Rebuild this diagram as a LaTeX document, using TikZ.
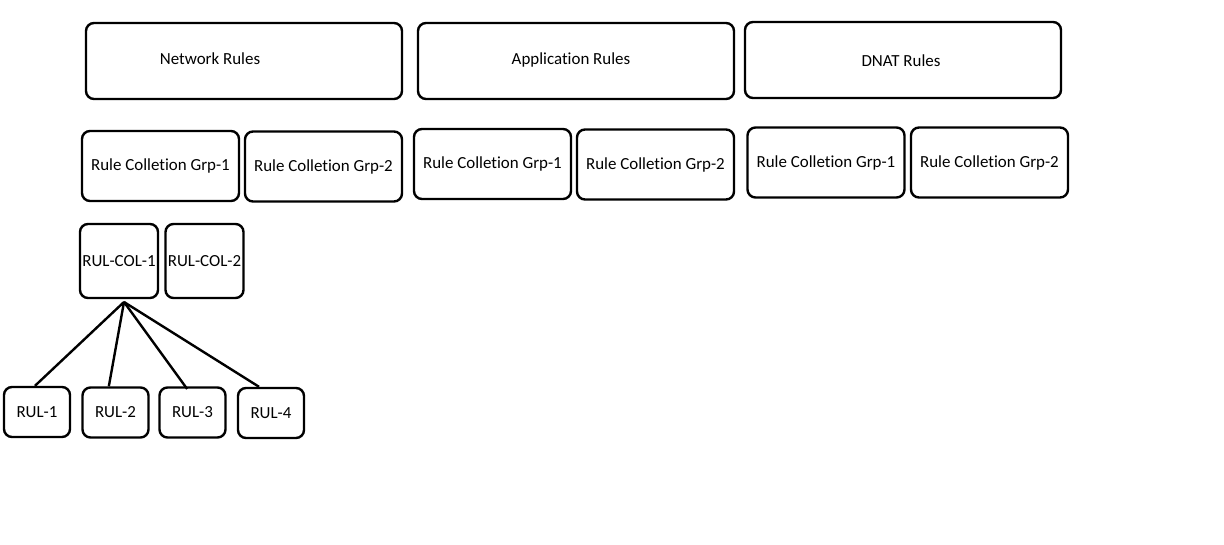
\documentclass[tikz,border=0pt]{standalone}
\usepackage{fontspec}
\setmainfont[Ligatures=NoCommon]{Carlito}
\usepackage{tikz}

\begin{document}
\begin{tikzpicture}[x=0.75pt, y=-0.75pt, line width=1.8pt, font=\fontsize{12.7}{15}\selectfont,
    box/.style={draw, rounded corners=6pt, inner sep=0pt},
    rulebox/.style={box, minimum width=237pt, minimum height=57pt},
    grpbox/.style={box, minimum width=117.75pt, minimum height=52.5pt},
    colbox/.style={box, minimum width=58.5pt, minimum height=55.5pt},
    rulbox/.style={box, minimum width=49.5pt, minimum height=37.5pt}]
      \useasboundingbox (0,0) rectangle (1224,545);

      % 1. 規則類型
      \node[rulebox] (net) at (244,61) {};
      \node (netlbl) at (210,59) {Network Rules};
      \node[rulebox] (app) at (576,61) {};
      \node (applbl) at (571,60) {Application Rules};
      \node[rulebox] (dnat) at (903,60) {};
      \node (dnatlbl) at (901,61) {DNAT Rules};

      % 2. 規則集合群組
      \node[grpbox] (netg1) at (160.5,166) {Rule Colletion Grp-1};
      \node[grpbox] (netg2) at (323.5,166.5) {Rule Colletion Grp-2};
      \node[grpbox] (appg1) at (492.5,164) {Rule Colletion Grp-1};
      \node[grpbox] (appg2) at (655.5,164.5) {Rule Colletion Grp-2};
      \node[grpbox] (dnatg1) at (826,162.5) {Rule Colletion Grp-1};
      \node[grpbox] (dnatg2) at (989.5,162.5) {Rule Colletion Grp-2};

      % 3. 規則集合
      \node[colbox] (col1) at (119,261) {RUL-COL-1};
      \node[colbox] (col2) at (204.5,261) {RUL-COL-2};

      % 4. 規則
      \node[rulbox] (rul1) at (37,412) {RUL-1};
      \node[rulbox] (rul2) at (115.5,412.5) {RUL-2};
      \node[rulbox] (rul3) at (192.5,412.5) {RUL-3};
      \node[rulbox] (rul4) at (271,413) {RUL-4};

      % 5. 連線
      \coordinate (hub) at (124,302);
      \draw (hub) -- ([xshift=-1.5pt]rul1.north);
      \draw (hub) -- ([xshift=-5pt]rul2.north);
      \draw (hub) -- ([xshift=-4pt,yshift=-2pt]rul3.north);
      \draw (hub) -- ([xshift=-9pt]rul4.north);
    \end{tikzpicture}
\end{document}
